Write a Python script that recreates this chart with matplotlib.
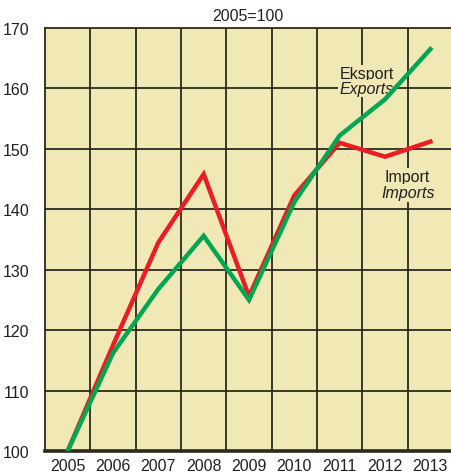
import matplotlib
matplotlib.use("Agg")
import matplotlib.pyplot as plt
from matplotlib import font_manager

years = ["2005", "2006", "2007", "2008", "2009", "2010", "2011", "2012", "2013"]
exports = [100, 116.2, 126.8, 135.6, 125.0, 141.2, 152.2, 158.2, 166.5]
imports = [100, 117.5, 134.5, 145.8, 125.6, 142.3, 151.0, 148.7, 151.2]
yticks = [100, 110, 120, 130, 140, 150, 160, 170]

names = {f.name for f in font_manager.fontManager.ttflist}
fam = "Liberation Sans Narrow" if "Liberation Sans Narrow" in names else "Liberation Sans"
plt.rcParams["font.family"] = [fam, "DejaVu Sans"]

fig = plt.figure(figsize=(4.51, 4.77), dpi=100)
ax = fig.add_axes([45/451, 25/477, 406/451, (452-29)/477])
bg = "#f0e9b6"
ax.set_facecolor(bg)

x = list(range(len(years)))
ax.set_xlim(-0.5, 8.5 - 2/45.3)
ax.set_ylim(100, 170)

grid_c = "#2b2a1e"
for i in range(len(years)):
    ax.axvline(i + 0.5, color=grid_c, lw=1.3, zorder=1)
for v in yticks[1:-1]:
    ax.axhline(v, color=grid_c, lw=1.3, zorder=1)

ax.plot(x, imports, color="#ec1c24", lw=3.2, zorder=3, solid_joinstyle="miter")
ax.plot(x, exports, color="#00a651", lw=3.2, zorder=4, solid_joinstyle="miter")

ax.set_xticks(x)
ax.set_xticklabels(years)
ax.set_yticks(yticks)
ax.tick_params(length=0, labelsize=11.5, colors="#231f20", pad=5)
ax.tick_params(axis="y", pad=11)

for s in ["top", "left"]:
    ax.spines[s].set_color(grid_c)
    ax.spines[s].set_linewidth(1.3)
ax.spines["right"].set_visible(False)
ax.spines["bottom"].set_color(grid_c)
ax.spines["bottom"].set_linewidth(2.6)

ax.text(0.5, 1.012, "2005=100", transform=ax.transAxes, ha="center", va="bottom",
        fontsize=11.5, color="#231f20")

bb = dict(boxstyle="square,pad=0.08", fc=bg, ec="none")
ax.text(6.6, 161.2, "Eksport", ha="center", va="bottom", fontsize=11.5, color="#231f20", zorder=2, bbox=bb)
ax.text(6.6, 160.0, "Exports", ha="center", va="center", fontsize=11.5, style="italic", color="#231f20", zorder=2, bbox=bb)
ax.text(7.5, 145.4, "Import", ha="center", va="center", fontsize=11.5, color="#231f20", zorder=2, bbox=bb)
ax.text(7.5, 142.7, "Imports", ha="center", va="center", fontsize=11.5, style="italic", color="#231f20", zorder=2, bbox=bb)

fig.savefig("out.png", dpi=100)
